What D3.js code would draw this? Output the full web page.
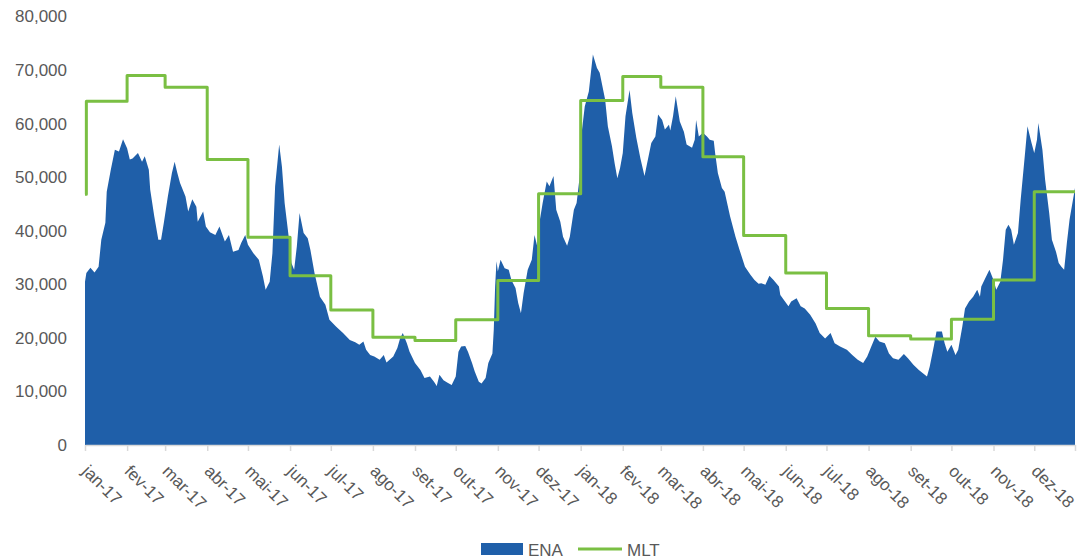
<!DOCTYPE html>
<html>
<head>
<meta charset="utf-8">
<script src="https://cdn.jsdelivr.net/npm/d3@7"></script>
<style>
  html, body { margin: 0; padding: 0; background: #ffffff; }
  svg { display: block; font-family: "Liberation Sans", Arial, sans-serif; }
</style>
</head>
<body>
<svg id="chart" width="1085" height="558"></svg>
<script>
// ---------------- DATA ----------------
const enaDates = [
"2017-01-01","2017-01-02","2017-01-05","2017-01-08","2017-01-11","2017-01-13","2017-01-16","2017-01-17","2017-01-20","2017-01-23","2017-01-26","2017-01-29",
"2017-02-01","2017-02-03","2017-02-05","2017-02-09","2017-02-12","2017-02-14","2017-02-17","2017-02-18","2017-02-21","2017-02-24","2017-02-26","2017-02-28",
"2017-03-03","2017-03-06","2017-03-08","2017-03-10","2017-03-12","2017-03-16","2017-03-18","2017-03-21","2017-03-24","2017-03-25","2017-03-29","2017-03-31",
"2017-04-03","2017-04-07","2017-04-10","2017-04-14","2017-04-17","2017-04-20","2017-04-24","2017-04-26","2017-04-29",
"2017-05-01","2017-05-05","2017-05-09","2017-05-12","2017-05-14","2017-05-17","2017-05-19","2017-05-21","2017-05-24","2017-05-26","2017-05-28","2017-05-31",
"2017-06-02","2017-06-04","2017-06-06","2017-06-08","2017-06-11","2017-06-14","2017-06-16","2017-06-19","2017-06-23","2017-06-27","2017-06-30",
"2017-07-05","2017-07-10","2017-07-15","2017-07-19","2017-07-22","2017-07-25","2017-07-27","2017-07-30",
"2017-08-02","2017-08-06","2017-08-09","2017-08-11","2017-08-16","2017-08-19","2017-08-21","2017-08-23","2017-08-26","2017-08-28",
"2017-09-01","2017-09-05","2017-09-08","2017-09-12","2017-09-15","2017-09-17","2017-09-19","2017-09-22","2017-09-25","2017-09-28",
"2017-10-01","2017-10-03","2017-10-05","2017-10-08","2017-10-10","2017-10-13","2017-10-15","2017-10-18","2017-10-20","2017-10-23","2017-10-25","2017-10-28","2017-10-29","2017-10-30","2017-10-31",
"2017-11-01","2017-11-03","2017-11-06","2017-11-09","2017-11-11","2017-11-14","2017-11-16","2017-11-18","2017-11-20","2017-11-23","2017-11-26","2017-11-28","2017-11-30",
"2017-12-02","2017-12-04","2017-12-07","2017-12-09","2017-12-12","2017-12-14","2017-12-17","2017-12-19","2017-12-22","2017-12-24","2017-12-27","2017-12-29","2017-12-31",
"2018-01-02","2018-01-04","2018-01-07","2018-01-10","2018-01-13","2018-01-15","2018-01-19","2018-01-21","2018-01-24","2018-01-26","2018-01-28","2018-01-30",
"2018-02-01","2018-02-03","2018-02-06","2018-02-08","2018-02-11","2018-02-14","2018-02-17","2018-02-20","2018-02-22","2018-02-25","2018-02-27",
"2018-03-02","2018-03-04","2018-03-07","2018-03-08","2018-03-10","2018-03-12","2018-03-15","2018-03-18","2018-03-20","2018-03-24","2018-03-26","2018-03-27","2018-03-29",
"2018-04-01","2018-04-04","2018-04-06","2018-04-09","2018-04-10","2018-04-12","2018-04-15","2018-04-17","2018-04-21","2018-04-25","2018-04-28",
"2018-05-02","2018-05-06","2018-05-09","2018-05-12","2018-05-14","2018-05-17","2018-05-20","2018-05-23","2018-05-27","2018-05-28",
"2018-06-01","2018-06-03","2018-06-05","2018-06-09","2018-06-12","2018-06-15","2018-06-19","2018-06-23","2018-06-26","2018-06-30",
"2018-07-04","2018-07-07","2018-07-11","2018-07-16","2018-07-20","2018-07-24","2018-07-28","2018-07-31",
"2018-08-03","2018-08-06","2018-08-09","2018-08-13","2018-08-16","2018-08-19","2018-08-23","2018-08-27","2018-08-30",
"2018-09-03","2018-09-07","2018-09-10","2018-09-13","2018-09-15","2018-09-18","2018-09-20","2018-09-24","2018-09-26","2018-09-28",
"2018-10-01","2018-10-04","2018-10-06","2018-10-09","2018-10-11","2018-10-14","2018-10-17","2018-10-20","2018-10-22","2018-10-23","2018-10-26","2018-10-29",
"2018-11-01","2018-11-03","2018-11-06","2018-11-08","2018-11-10","2018-11-12","2018-11-14","2018-11-16","2018-11-19","2018-11-21","2018-11-24","2018-11-26","2018-11-29",
"2018-12-01","2018-12-03","2018-12-04","2018-12-07","2018-12-09","2018-12-12","2018-12-14","2018-12-17","2018-12-19","2018-12-21","2018-12-23","2018-12-25","2018-12-27","2018-12-31"
];
const enaValues = [
30500,32100,33100,32200,33300,38300,41500,47300,51400,55100,54800,57100,
55400,53300,53500,54500,52900,53900,51400,47700,42700,38300,38300,41400,
46400,50800,52900,50800,48900,46400,43600,45900,44500,41700,43600,40800,
39700,39200,40800,38000,39200,36100,36400,37700,39200,
37400,35800,34600,31500,29000,30500,35800,48300,56100,52000,45200,38900,
34000,32700,37100,43300,39600,38600,36400,32100,27700,26200,23400,
22100,20900,19600,19200,18700,19300,17800,16800,
16500,15900,16800,15400,16500,18100,19900,20900,19000,17400,
15300,14000,12500,12800,11800,11000,13100,12100,11600,11200,
12800,17400,18400,18500,17400,15300,13700,11800,11500,12500,15300,17100,21500,29600,34300,
32400,34600,33000,32700,30800,29300,26500,24600,28400,32700,34600,39200,37100,
42100,45200,49200,48300,50200,43900,41700,38900,37200,38900,43900,45200,49500,
58900,63200,66000,72900,70400,69500,64500,59500,55800,52600,49800,51700,
54500,61400,66300,62000,57300,53500,50200,53900,56400,57600,61700,
60700,58900,59800,58700,61400,65100,60400,58500,56100,55500,57000,60700,57600,
58300,57600,57000,56800,54500,50800,48000,47300,42700,38900,36400,
33300,31800,30800,30100,30200,29900,31600,30800,29600,28000,
26600,25900,26800,27400,25900,25500,24300,22700,20900,19900,
20900,19000,18400,17800,16800,15900,15300,16500,
18400,20200,19300,19000,17100,16200,15900,17000,16200,
15000,14000,13400,12800,14600,18400,21200,21200,19000,17400,
18700,16800,17800,22100,25500,26800,27700,29000,27700,29600,31200,32700,
30800,29000,30500,34600,40200,41100,40200,37400,39600,45800,53900,59500,56400,
54500,57000,60100,55100,49500,43300,38300,36100,34000,33300,32700,37700,42100,48000
];

// MLT (long-term average), monthly steps
const mltDates = [
"2017-01-01","2017-01-02","2017-02-01","2017-03-01","2017-04-01","2017-05-01","2017-06-01","2017-07-01","2017-08-01","2017-09-01","2017-10-01","2017-11-01","2017-12-01",
"2018-01-01","2018-02-01","2018-03-01","2018-04-01","2018-05-01","2018-06-01","2018-07-01","2018-08-01","2018-09-01","2018-10-01","2018-11-01","2018-12-01","2018-12-31"
];
const mltValues = [
46800,64200,69000,66800,53300,38800,31600,25200,20100,19500,23400,30700,46900,
64300,68800,66800,53800,39100,32100,25500,20400,19800,23500,30800,47300,47300
];

const tickLabels = [
"jan-17","fev-17","mar-17","abr-17","mai-17","jun-17","jul-17","ago-17","set-17","out-17","nov-17","dez-17",
"jan-18","fev-18","mar-18","abr-18","mai-18","jun-18","jul-18","ago-18","set-18","out-18","nov-18","dez-18"
];
const yTicks = [0,10000,20000,30000,40000,50000,60000,70000,80000];
const seriesNames = ["ENA","MLT"];

// ---------------- CHART ----------------
const parse = d3.utcParse("%Y-%m-%d");
const ena = enaDates.map((d,i) => ({date: parse(d), value: enaValues[i]}));
const mlt = mltDates.map((d,i) => ({date: parse(d), value: mltValues[i]}));

const blue = "#1f5fa9";
const green = "#7abf43";
const textColor = "#595959";

const svg = d3.select("#chart");
const mLeft = 85, mRight = 1075, mTop = 16.5, mBottom = 445;

const x = d3.scaleUtc()
  .domain([parse("2017-01-01"), parse("2018-12-31")])
  .range([mLeft, mRight]);
const y = d3.scaleLinear().domain([0, 80000]).range([mBottom, mTop]);

// area
svg.append("path")
  .datum(ena)
  .attr("fill", blue)
  .attr("d", d3.area().x(d => x(d.date)).y0(y(0)).y1(d => y(d.value)).curve(d3.curveLinear));

// MLT line
svg.append("path")
  .datum(mlt)
  .attr("fill", "none")
  .attr("stroke", green)
  .attr("stroke-width", 3)
  .attr("stroke-linejoin", "round")
  .attr("d", d3.line().x(d => x(d.date)).y(d => y(d.value)).curve(d3.curveStepAfter));

// Y axis
const yAxis = svg.append("g")
  .attr("transform", `translate(${mLeft},0)`)
  .call(d3.axisLeft(y).tickValues(yTicks).tickSize(0).tickPadding(18).tickFormat(d3.format(",")));
yAxis.select(".domain").remove();
yAxis.selectAll("text")
  .attr("fill", textColor)
  .style("font-size", "17px")
  .style("font-family", "'Liberation Sans', Arial, sans-serif");

// X axis
const monthTicks = d3.utcMonth.range(parse("2017-01-01"), parse("2019-01-01"));
const xTickVals = monthTicks.concat([parse("2018-12-31")]);
const xAxis = svg.append("g")
  .attr("transform", `translate(0,${mBottom})`)
  .call(d3.axisBottom(x).tickValues(xTickVals).tickSizeInner(6).tickSizeOuter(0)
    .tickFormat((d,i) => i < tickLabels.length ? tickLabels[i] : ""));
xAxis.select(".domain").attr("stroke", "#d9d9d9").attr("stroke-width", 1.5);
xAxis.selectAll(".tick line").attr("stroke", "#d9d9d9").attr("stroke-width", 1.5);
xAxis.selectAll("text")
  .attr("fill", textColor)
  .style("font-size", "17px")
  .style("font-family", "'Liberation Sans', Arial, sans-serif")
  .attr("text-anchor", "start")
  .attr("x", 0).attr("y", 0).attr("dy", "0.35em")
  .attr("transform", "translate(0,23) rotate(45)");

// Legend
const lg = svg.append("g");
lg.append("rect").attr("x", 481).attr("y", 543).attr("width", 42).attr("height", 12).attr("fill", blue);
lg.append("text").attr("x", 528).attr("y", 555.5).attr("fill", textColor)
  .style("font-size", "17px").text(seriesNames[0]);
lg.append("line").attr("x1", 578).attr("x2", 622).attr("y1", 549).attr("y2", 549)
  .attr("stroke", green).attr("stroke-width", 3);
lg.append("text").attr("x", 627).attr("y", 555.5).attr("fill", textColor)
  .style("font-size", "17px").text(seriesNames[1]);
</script>
</body>
</html>
